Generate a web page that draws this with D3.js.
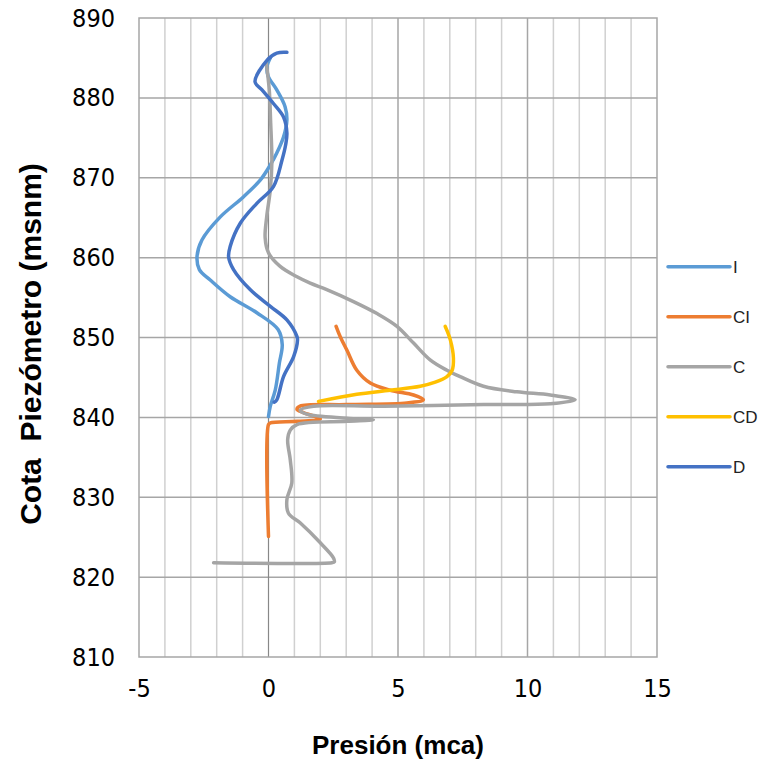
<!DOCTYPE html>
<html>
<head>
<meta charset="utf-8">
<script src="https://cdn.jsdelivr.net/npm/d3@7"></script>
<style>
  body { margin: 0; background: #fff; }
</style>
</head>
<body>
<svg id="chart" width="764" height="762"></svg>
<script>
// [presion, cota]
const seriesI = [
  [0.07, 885.0], [-0.06, 883.9], [-0.01, 882.7], [0.32, 881.0], [0.64, 878.9], [0.71, 877.2],
  [0.58, 875.1], [0.32, 873.1], [0.07, 871.6], [-0.32, 869.7], [-0.97, 867.6], [-1.86, 865.1],
  [-2.57, 862.2], [-2.76, 860.1], [-2.67, 858.5], [-2.25, 857.2], [-1.48, 855.1], [-0.45, 853.1],
  [0.37, 851.0], [0.53, 849.1], [0.42, 846.8], [0.26, 843.4], [0.07, 841.4], [0.0, 840.1]
];
const seriesCI = [
  [2.61, 851.4], [2.77, 850.1], [3.03, 848.4], [3.41, 845.9], [3.93, 844.3], [4.70, 843.4],
  [5.60, 842.8], [5.98, 842.2], [5.34, 841.8], [3.03, 841.6], [1.22, 841.4], [1.10, 841.0],
  [1.35, 840.6], [2.00, 839.8], [1.10, 839.5], [0.07, 839.3], [0.0, 839.1], [0.0, 825.1]
];
const seriesC = [
  [-0.09, 884.5], [0.03, 881.0], [0.08, 877.2], [0.13, 871.9], [0.07, 868.5], [-0.07, 865.1],
  [-0.13, 862.5], [0.0, 860.6], [0.45, 858.9], [1.10, 857.6], [1.61, 856.8], [2.25, 856.0],
  [3.28, 854.5], [4.19, 853.0], [4.96, 851.4], [5.60, 849.3], [6.24, 847.2], [6.89, 845.9],
  [7.40, 845.1], [8.30, 843.9], [9.59, 843.2], [10.88, 842.8], [11.84, 842.2], [10.88, 841.7],
  [8.30, 841.6], [4.44, 841.4], [1.74, 841.4], [1.22, 840.9], [1.48, 840.4], [3.03, 839.9],
  [4.05, 839.7], [3.03, 839.5], [1.10, 839.1], [0.84, 838.4], [0.74, 837.2], [0.84, 834.7],
  [0.90, 831.8], [0.71, 829.7], [0.77, 828.0], [1.22, 826.8], [2.00, 824.3], [2.51, 822.4],
  [2.54, 821.9], [2.45, 821.8], [-2.12, 821.8]
];
const seriesCD = [
  [6.82, 851.4], [7.02, 849.7], [7.14, 847.4], [7.09, 845.9], [6.89, 845.1], [6.44, 844.4],
  [5.86, 843.9], [4.70, 843.4], [3.41, 842.9], [1.93, 842.0]
];
const seriesD = [
  [0.71, 885.7], [0.32, 885.6], [-0.06, 884.7], [-0.52, 882.0], [-0.25, 881.0], [0.19, 879.3],
  [0.58, 877.6], [0.71, 875.6], [0.66, 874.1], [0.52, 872.2], [0.19, 868.9], [-0.45, 866.8],
  [-1.09, 864.3], [-1.48, 861.4], [-1.54, 860.1], [-1.35, 858.5], [-0.71, 856.0], [0.07, 853.9],
  [0.71, 852.2], [1.10, 850.1], [1.12, 849.7], [0.97, 847.6], [0.58, 845.1], [0.32, 842.2],
  [0.22, 841.9]
];

const seriesNames = ["I", "CI", "C", "CD", "D"];
const seriesColors = ["#5b9bd5", "#ed7d31", "#a5a5a5", "#ffc000", "#4472c4"];
const allSeries = [seriesI, seriesCI, seriesC, seriesCD, seriesD];

const xTicks = [-5, 0, 5, 10, 15];
const yTicks = [810, 820, 830, 840, 850, 860, 870, 880, 890];

const svg = d3.select("#chart");
const plot = { left: 139, right: 657, top: 18, bottom: 657 };

const x = d3.scaleLinear().domain([-5, 15]).range([plot.left, plot.right]);
const y = d3.scaleLinear().domain([810, 890]).range([plot.bottom, plot.top]);

const grid = svg.append("g");

// minor verticals every 1
grid.selectAll(".minor")
  .data(d3.range(-4, 15).filter(v => v % 5 !== 0))
  .enter().append("line")
  .attr("x1", d => x(d)).attr("x2", d => x(d))
  .attr("y1", plot.top).attr("y2", plot.bottom)
  .attr("stroke", "#d0d0d0").attr("stroke-width", 1.5);

grid.selectAll(".major")
  .data([5, 10])
  .enter().append("line")
  .attr("x1", d => x(d)).attr("x2", d => x(d))
  .attr("y1", plot.top).attr("y2", plot.bottom)
  .attr("stroke", "#a6a6a6").attr("stroke-width", 1.5);

grid.selectAll(".hline")
  .data(yTicks.slice(1, -1))
  .enter().append("line")
  .attr("x1", plot.left).attr("x2", plot.right)
  .attr("y1", d => y(d)).attr("y2", d => y(d))
  .attr("stroke", "#a6a6a6").attr("stroke-width", 1.5);

// zero line
grid.append("line")
  .attr("x1", x(0)).attr("x2", x(0))
  .attr("y1", plot.top).attr("y2", plot.bottom)
  .attr("stroke", "#888").attr("stroke-width", 1.2);

grid.append("rect")
  .attr("x", plot.left).attr("y", plot.top)
  .attr("width", plot.right - plot.left).attr("height", plot.bottom - plot.top)
  .attr("fill", "none").attr("stroke", "#a6a6a6").attr("stroke-width", 1.5);

// axes labels
const tickFont = "'Liberation Sans Narrow', 'DejaVu Sans Condensed', sans-serif";
const yAxis = d3.axisLeft(y).tickValues(yTicks).tickSize(0).tickPadding(24)
  .tickFormat(d => String(d));
svg.append("g").attr("transform", `translate(${plot.left},0)`).call(yAxis)
  .call(g => g.select(".domain").remove())
  .selectAll("text").attr("font-family", tickFont).attr("font-size", 25).attr("fill", "#000");

const xAxis = d3.axisBottom(x).tickValues(xTicks).tickSize(0).tickPadding(22)
  .tickFormat(d => String(d));
svg.append("g").attr("transform", `translate(0,${plot.bottom})`).call(xAxis)
  .call(g => g.select(".domain").remove())
  .selectAll("text").attr("font-family", tickFont).attr("font-size", 25).attr("fill", "#000");

// series
const line = d3.line()
  .x(d => x(d[0]))
  .y(d => y(d[1]))
  .curve(d3.curveCatmullRom.alpha(0.5));

svg.append("g").selectAll("path")
  .data(allSeries)
  .enter().append("path")
  .attr("d", line)
  .attr("fill", "none")
  .attr("stroke", (d, i) => seriesColors[i])
  .attr("stroke-width", 3.5)
  .attr("stroke-linecap", "round")
  .attr("stroke-linejoin", "round");

// titles
svg.append("text")
  .attr("x", 398).attr("y", 754)
  .attr("text-anchor", "middle")
  .attr("font-family", "'Liberation Sans', Arial, sans-serif")
  .attr("font-weight", "bold").attr("font-size", 26)
  .text("Presión (mca)");

svg.append("text")
  .attr("transform", "translate(41,344) rotate(-90)")
  .attr("text-anchor", "middle")
  .attr("font-family", "'Liberation Sans', Arial, sans-serif")
  .attr("font-weight", "bold").attr("font-size", 30)
  .attr("xml:space", "preserve")
  .text("Cota  Piezómetro (msnm)");

// legend
const legend = svg.append("g").selectAll("g")
  .data(seriesNames)
  .enter().append("g")
  .attr("transform", (d, i) => `translate(668,${266.7 + i * 50})`);

legend.append("line")
  .attr("x1", 0).attr("x2", 62)
  .attr("stroke", (d, i) => seriesColors[i])
  .attr("stroke-width", 3.5)
  .attr("stroke-linecap", "round");

legend.append("text")
  .attr("x", 65).attr("y", 6)
  .attr("font-family", "'Liberation Sans', Arial, sans-serif")
  .attr("font-size", 17)
  .attr("fill", "#222")
  .text(d => d);
</script>
</body>
</html>
